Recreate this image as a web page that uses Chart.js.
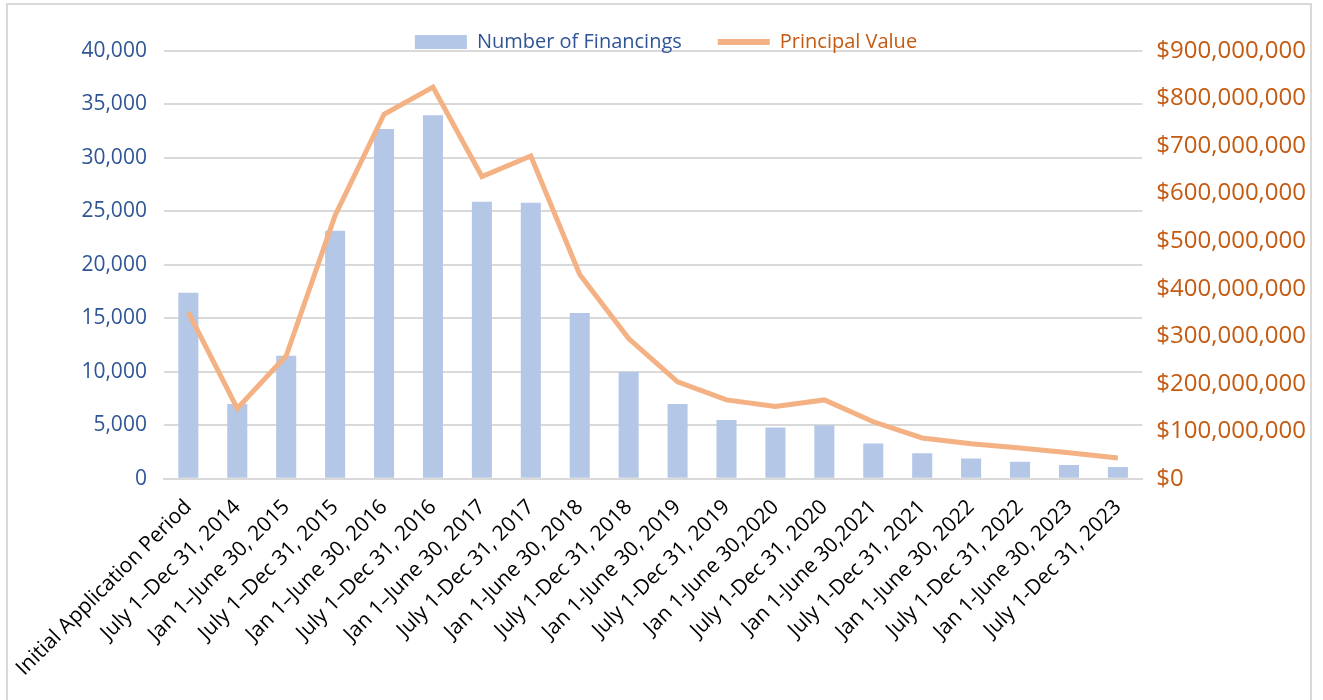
<!DOCTYPE html>
<html>
<head>
<meta charset="utf-8">
<script src="https://cdn.jsdelivr.net/npm/chart.js@4"></script>
<style>
  html, body { margin: 0; padding: 0; background: #fff; overflow: hidden; }
  #wrap { position: relative; width: 1323px; height: 700px; }
  #frame { position: absolute; left: 6px; top: 3px; width: 1306px; height: 720px; border: 2px solid #d9d9d9; box-sizing: border-box; }
  canvas { position: relative; }
</style>
</head>
<body>
<div id="wrap"><div id="frame"></div><canvas id="mycanvas"></canvas></div>
<script>
var periods = [
  "Initial Application Period", "July 1\u2013Dec 31, 2014", "Jan 1\u2013June 30, 2015",
  "July 1\u2013Dec 31, 2015", "Jan 1\u2013June 30, 2016", "July 1\u2013Dec 31, 2016",
  "Jan 1\u2013June 30, 2017", "July 1-Dec 31, 2017", "Jan 1-June 30, 2018",
  "July 1-Dec 31, 2018", "Jan 1-June 30, 2019", "July 1-Dec 31, 2019",
  "Jan 1-June 30,2020", "July 1-Dec 31, 2020", "Jan 1-June 30,2021",
  "July 1-Dec 31, 2021", "Jan 1-June 30, 2022", "July 1-Dec 31, 2022",
  "Jan 1-June 30, 2023", "July 1-Dec 31, 2023"
];
var financings = [17400, 7000, 11500, 23200, 32700, 34000, 25900, 25800, 15500, 10000,
                  7000, 5500, 4800, 5000, 3300, 2400, 1900, 1600, 1300, 1100];
var principal = [350e6, 148e6, 259e6, 554e6, 767e6, 824e6, 636e6, 679e6, 430e6, 295e6,
                 204e6, 166e6, 152e6, 166e6, 120e6, 86e6, 74e6, 65e6, 55e6, 44e6];

var blueText = "#2F5597";
var orangeText = "#C55A11";
var fontFam = "'Open Sans', 'Noto Sans', sans-serif";
var legendCut = 11;
var legendShift = 24;

// let the legend sit over the top gridline like the Excel original
var legendOverlap = {
  id: "legendOverlap",
  beforeLayout: function(chart) {
    var lg = chart.legend;
    if (lg && !lg._patched) {
      var orig = lg.fit;
      lg.fit = function() {
        orig.call(this);
        this.height = Math.max(0, this.height - legendCut);
      };
      lg._patched = true;
    }
  },
  afterLayout: function(chart) {
    // give the height back so the legend text is not clipped
    var lg = chart.legend;
    if (lg) {
      lg.height += legendCut;
      lg.bottom = lg.top + lg.height;
      lg.left -= legendShift;
      lg.right -= legendShift;
    }
  }
};

var chartdata = {
  labels: periods,
  datasets: [
    {
      type: "line",
      label: "Principal Value",
      data: principal,
      yAxisID: "y2",
      borderColor: "#F4B183",
      backgroundColor: "#F4B183",
      borderWidth: 5,
      pointRadius: 0,
      tension: 0,
      fill: false,
      order: 1
    },
    {
      type: "bar",
      label: "Number of Financings",
      data: financings,
      yAxisID: "y",
      backgroundColor: "#B4C7E7",
      barPercentage: 0.41,
      categoryPercentage: 1.0,
      order: 2
    }
  ]
};

var ctx = document.getElementById("mycanvas");
var LineGraph = new Chart(ctx, {
  data: chartdata,
  plugins: [legendOverlap],
  options: {
    responsive: true,
    maintainAspectRatio: false,
    animation: false,
    layout: { padding: { left: 60, right: 3, top: 22, bottom: 3 } },
    plugins: {
      tooltip: { enabled: false },
      legend: {
        position: "top",
        reverse: true,
        labels: {
          font: { family: fontFam, size: 20 },
          usePointStyle: true,
          pointStyleWidth: 52,
          boxHeight: 14,
          padding: 10,
          generateLabels: function(chart) {
            var items = Chart.defaults.plugins.legend.labels.generateLabels(chart);
            items.forEach(function(it) {
              if (it.text === "Principal Value") {
                it.fontColor = orangeText;
                it.pointStyle = "line";
                it.lineWidth = 6;
                it.strokeStyle = "#F4B183";
              } else {
                it.fontColor = blueText;
                it.pointStyle = "rect";
                it.lineWidth = 0;
                it.text = it.text + "\u00a0\u00a0\u00a0\u00a0\u00a0";
              }
            });
            return items;
          }
        }
      }
    },
    scales: {
      x: {
        grid: { display: false, drawTicks: false },
        border: { color: "#d9d9d9", width: 2 },
        ticks: {
          color: "#000",
          font: { family: fontFam, size: 21 },
          minRotation: 45,
          maxRotation: 45,
          padding: 16,
          autoSkip: false
        }
      },
      y: {
        position: "left",
        min: 0,
        max: 40000,
        grid: { color: "#d9d9d9", lineWidth: 2, drawTicks: false },
        border: { display: false },
        ticks: {
          stepSize: 5000,
          color: blueText,
          font: { family: fontFam, size: 21 },
          padding: 17,
          callback: function(v) { return v.toLocaleString("en-US"); }
        }
      },
      y2: {
        position: "right",
        min: 0,
        max: 900e6,
        grid: { display: false, drawTicks: false },
        border: { display: false },
        ticks: {
          stepSize: 100e6,
          color: orangeText,
          font: { family: fontFam, size: 24 },
          padding: 14,
          callback: function(v) { return "$" + v.toLocaleString("en-US"); }
        }
      }
    }
  }
});
</script>
</body>
</html>
